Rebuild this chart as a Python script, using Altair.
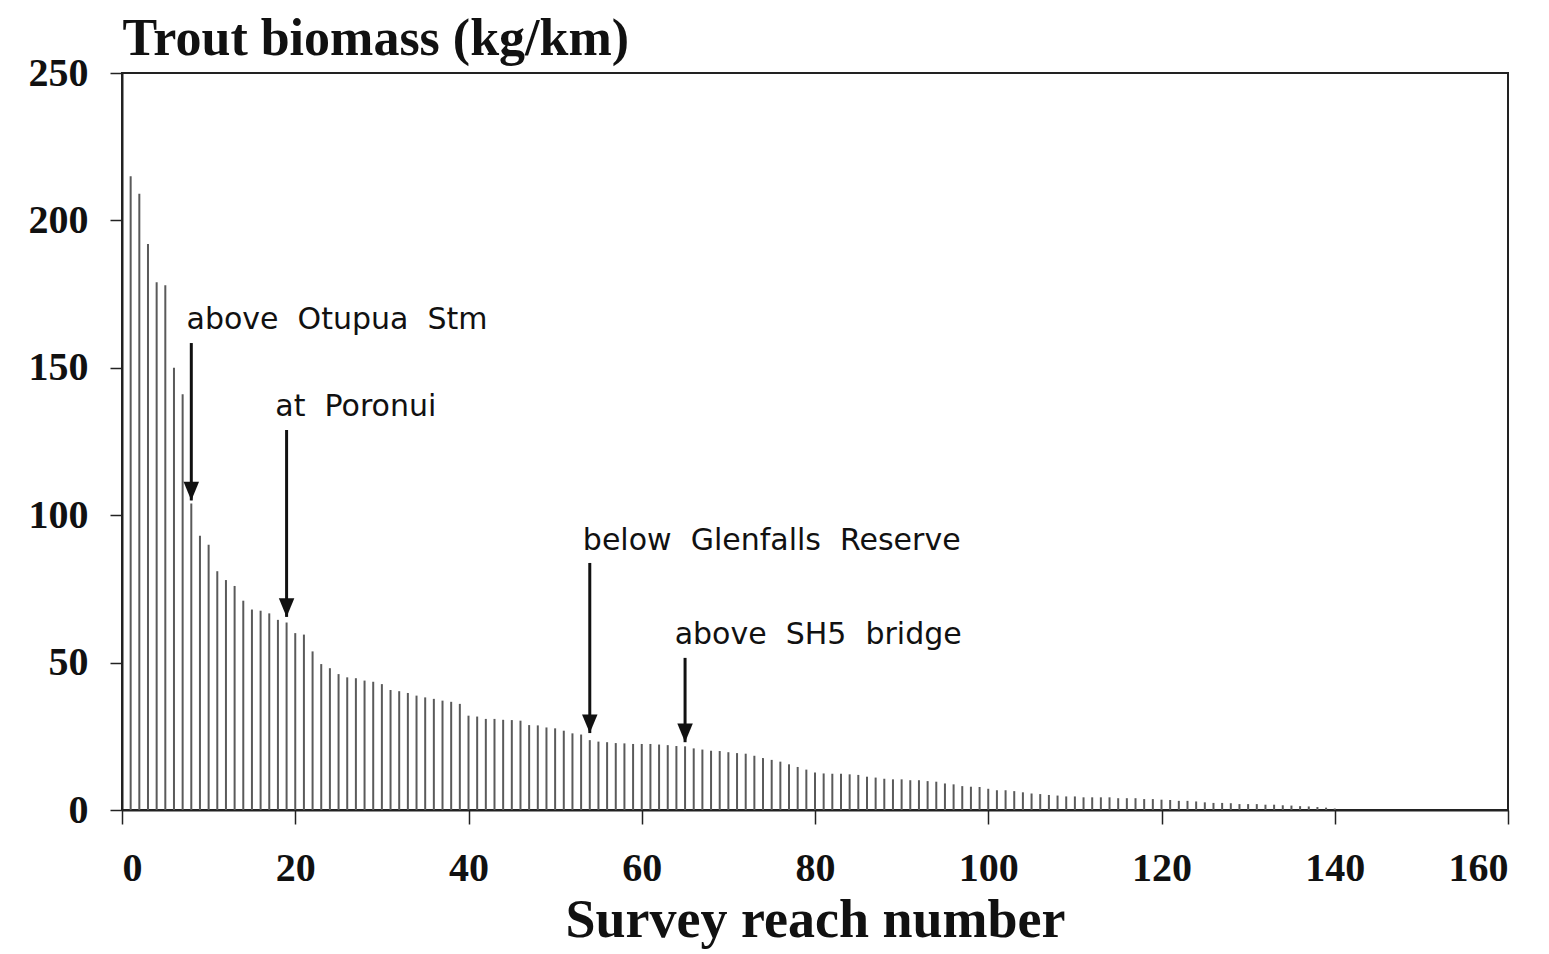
import altair as alt
import pandas as pd

# ---- data ----
reach = list(range(1, 141))
biomass = [
    215, 209, 192, 179, 178, 150, 141, 104, 93, 90,
    81, 78, 76, 71, 68, 67.6, 66.7, 64.5, 63.6, 60,
    59.5, 53.8, 49.5, 48.1, 46.1, 45.0, 44.7, 43.9, 43.5, 42.7,
    40.7, 40.3, 39.7, 38.8, 38.2, 37.7, 37.1, 36.7, 36.0, 32.0,
    31.7, 30.9, 30.9, 30.6, 30.5, 30.3, 28.8, 28.7, 28.0, 27.7,
    26.9, 26.0, 25.6, 23.7, 23.2, 23.0, 22.7, 22.6, 22.4, 22.4,
    22.4, 22.2, 22.0, 21.7, 21.6, 20.9, 20.5, 20.1, 20.0, 19.6,
    19.3, 19.1, 18.4, 17.6, 17.0, 16.4, 15.5, 14.6, 13.7, 12.7,
    12.4, 12.3, 12.3, 12.1, 11.9, 11.3, 11.0, 10.6, 10.4, 10.4,
    10.1, 10.1, 9.8, 9.6, 9.0, 8.7, 8.1, 7.9, 7.8, 7.2,
    6.7, 6.7, 6.4, 6.0, 5.6, 5.4, 5.1, 4.9, 4.6, 4.6,
    4.3, 4.3, 4.3, 4.3, 4.0, 4.0, 4.0, 3.7, 3.7, 3.5,
    3.4, 3.1, 3.1, 2.9, 2.6, 2.4, 2.4, 2.3, 2.0, 2.0,
    2.0, 1.8, 1.8, 1.6, 1.5, 1.3, 1.2, 1.0, 0.8, 0.5,
]

# annotations
label_text = ["above\u00a0\u00a0Otupua\u00a0\u00a0Stm", "at\u00a0\u00a0Poronui",
              "below\u00a0\u00a0Glenfalls\u00a0\u00a0Reserve", "above\u00a0\u00a0SH5\u00a0\u00a0bridge"]
label_x = [7.45, 17.7, 53.2, 63.8]
label_y = [163.2, 133.7, 88.2, 56.3]
arrow_x = [8, 19, 54, 65]
arrow_top = [158.4, 128.9, 83.8, 51.6]
arrow_tip = [105.0, 65.5, 26.1, 23.0]

x_ticks = [0, 20, 40, 60, 80, 100, 120, 140, 160]
y_ticks = [0, 50, 100, 150, 200, 250]

bars = pd.DataFrame({"reach": reach, "biomass": biomass})
labels = pd.DataFrame({"x": label_x, "y": label_y, "text": label_text})
arrows = pd.DataFrame({"x": arrow_x, "top": arrow_top, "tip": arrow_tip})

SERIF = "Liberation Serif"

xscale = alt.Scale(domain=[0, 160], nice=False, zero=False)
yscale = alt.Scale(domain=[0, 250], nice=False)

xaxis = alt.Axis(
    values=x_ticks, title="Survey reach number", grid=False,
    labelFont=SERIF, labelFontSize=40, labelFontWeight="bold", labelColor="#111",
    labelPadding=24, tickSize=14, tickColor="#222", tickWidth=1.5,
    domainColor="#222", domainWidth=2,
    titleFont=SERIF, titleFontSize=54, titleFontWeight="bold", titleColor="#111",
    titleBaseline="alphabetic", titleY=126,
)
yaxis = alt.Axis(
    values=y_ticks, title="Trout biomass (kg/km)", grid=False,
    labelFont=SERIF, labelFontSize=40, labelFontWeight="bold", labelColor="#111",
    labelPadding=22, tickSize=12, tickColor="#222", tickWidth=1.5,
    domainColor="#222", domainWidth=2,
    titleFont=SERIF, titleFontSize=52, titleFontWeight="bold", titleColor="#111",
    titleAngle=0, titleAlign="left", titleBaseline="alphabetic",
    titleX=0, titleY=-19,
)

bar_layer = alt.Chart(bars).mark_rule(color="#5a5a5a", strokeWidth=2).encode(
    x=alt.X("reach:Q", scale=xscale, axis=xaxis),
    y=alt.Y("biomass:Q", scale=yscale, axis=yaxis),
    y2=alt.datum(0),
)

text_layer = alt.Chart(labels).mark_text(
    align="left", baseline="alphabetic", font="DejaVu Sans", fontSize=30, color="#111"
).encode(
    x=alt.X("x:Q", scale=xscale),
    y=alt.Y("y:Q", scale=yscale),
    text="text:N",
)

shaft_layer = alt.Chart(arrows).mark_rule(color="#111", strokeWidth=3).encode(
    x=alt.X("x:Q", scale=xscale),
    y=alt.Y("top:Q", scale=yscale),
    y2="tip:Q",
)

head_layer = alt.Chart(arrows).mark_point(
    shape="M-1,-2.4L1,-2.4L0,0Z", filled=True, color="#111", opacity=1, size=240
).encode(
    x=alt.X("x:Q", scale=xscale),
    y=alt.Y("tip:Q", scale=yscale),
)

chart = alt.layer(bar_layer, shaft_layer, head_layer, text_layer).properties(
    width=1386, height=737,
    autosize=alt.AutoSizeParams(type="none"),
    padding={"left": 114, "top": 65, "right": 25, "bottom": 140},
    background="white",
).configure_view(stroke="#222", strokeWidth=2)

chart.save("out.html", embed_options={"renderer": "svg", "actions": False})
